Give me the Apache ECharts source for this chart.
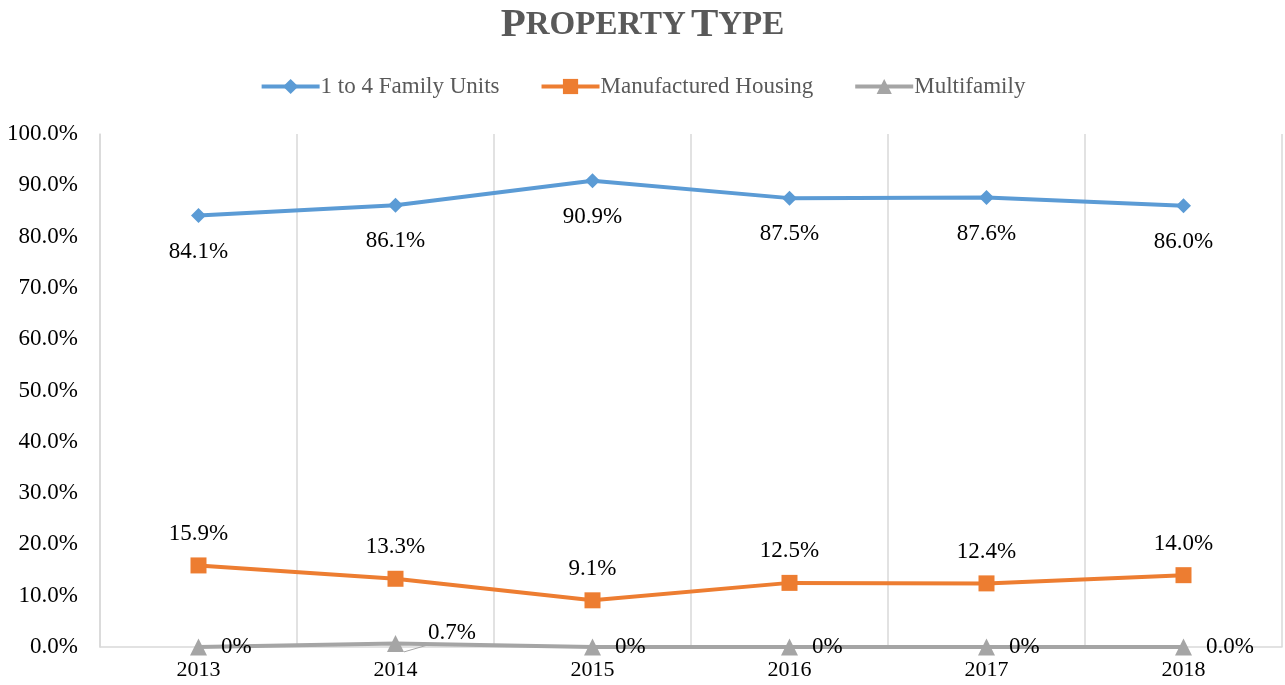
<!DOCTYPE html>
<html>
<head>
<meta charset="utf-8">
<script src="https://cdn.jsdelivr.net/npm/echarts@6/dist/echarts.min.js"></script>
<style>
  html, body { margin: 0; padding: 0; background: #fff; }
  #chart { width: 1285px; height: 685px; }
</style>
</head>
<body>
<div id="chart"></div>
<script>
// 数据
const years = ["2013", "2014", "2015", "2016", "2017", "2018"];
const familyUnits = [84.1, 86.1, 90.9, 87.5, 87.6, 86.0];
const manufactured = [15.9, 13.3, 9.1, 12.5, 12.4, 14.0];
const multifamily = [0, 0.7, 0, 0, 0, 0];
const multifamilyLabels = ["0%", "0.7%", "0%", "0%", "0%", "0.0%"];
const yTicks = [0, 10, 20, 30, 40, 50, 60, 70, 80, 90, 100];

const serif = "'Liberation Serif', 'DejaVu Serif', serif";

let chart = echarts.init(document.getElementById("chart"));
chart.setOption({
  animation: false,
  title: {
    text: "{a|P}{b|ROPERTY} {a|T}{b|YPE}",
    left: "center",
    top: 0,
    textStyle: {
      rich: {
        a: { fontFamily: serif, fontWeight: "bold", fontSize: 41, color: "#595959" },
        b: { fontFamily: serif, fontWeight: "bold", fontSize: 33, color: "#595959" }
      }
    }
  },
  legend: {
    top: 70,
    left: "center",
    itemWidth: 58,
    itemHeight: 19,
    itemGap: 40,
    lineStyle: { width: 4 },
    textStyle: { fontFamily: serif, fontSize: 23, color: "#595959", padding: [0, 0, 0, -4] },
    data: ["1 to 4 Family Units", "Manufactured Housing", "Multifamily"]
  },
  grid: { left: 100, right: 3, top: 134, bottom: 38 },
  xAxis: {
    type: "category",
    data: years,
    boundaryGap: true,
    axisLine: { show: true, lineStyle: { color: "#d9d9d9", width: 1.5 } },
    axisTick: { show: false },
    splitLine: { show: true, lineStyle: { color: "#d9d9d9", width: 1.5 } },
    axisLabel: { fontFamily: serif, fontSize: 22, color: "#000", margin: 12 }
  },
  yAxis: {
    type: "value",
    min: yTicks[0],
    max: yTicks[yTicks.length - 1],
    interval: 10,
    axisLine: { show: true, lineStyle: { color: "#d9d9d9", width: 1.5 } },
    axisTick: { show: false },
    splitLine: { show: false },
    axisLabel: {
      fontFamily: serif, fontSize: 23, color: "#000", margin: 22,
      formatter: v => v.toFixed(1) + "%"
    }
  },
  series: [
    {
      name: "1 to 4 Family Units",
      type: "line",
      data: familyUnits,
      symbol: "diamond",
      symbolSize: 15,
      lineStyle: { color: "#5b9bd5", width: 4 },
      itemStyle: { color: "#5b9bd5" },
      label: {
        show: true, position: "bottom", distance: 17,
        fontFamily: serif, fontSize: 23, color: "#000",
        formatter: p => p.value.toFixed(1) + "%"
      }
    },
    {
      name: "Manufactured Housing",
      type: "line",
      data: manufactured,
      symbol: "rect",
      symbolSize: 16,
      lineStyle: { color: "#ed7d31", width: 4 },
      itemStyle: { color: "#ed7d31" },
      label: {
        show: true, position: "top", distance: 12,
        fontFamily: serif, fontSize: 23, color: "#000",
        formatter: p => p.value.toFixed(1) + "%"
      }
    },
    {
      name: "Multifamily",
      type: "line",
      data: multifamily.map((v, i) => {
        let item = { value: v };
        if (i === 1) {
          item.label = { position: "right", offset: [10, -10] };
          item.labelLine = { show: true, lineStyle: { color: "#a5a5a5" } };
        }
        return item;
      }),
      symbol: "triangle",
      symbolSize: 17,
      lineStyle: { color: "#a5a5a5", width: 4 },
      itemStyle: { color: "#a5a5a5" },
      label: {
        show: true, position: "right", distance: 14,
        fontFamily: serif, fontSize: 23, color: "#000",
        formatter: p => multifamilyLabels[p.dataIndex]
      }
    }
  ]
});
</script>
</body>
</html>
